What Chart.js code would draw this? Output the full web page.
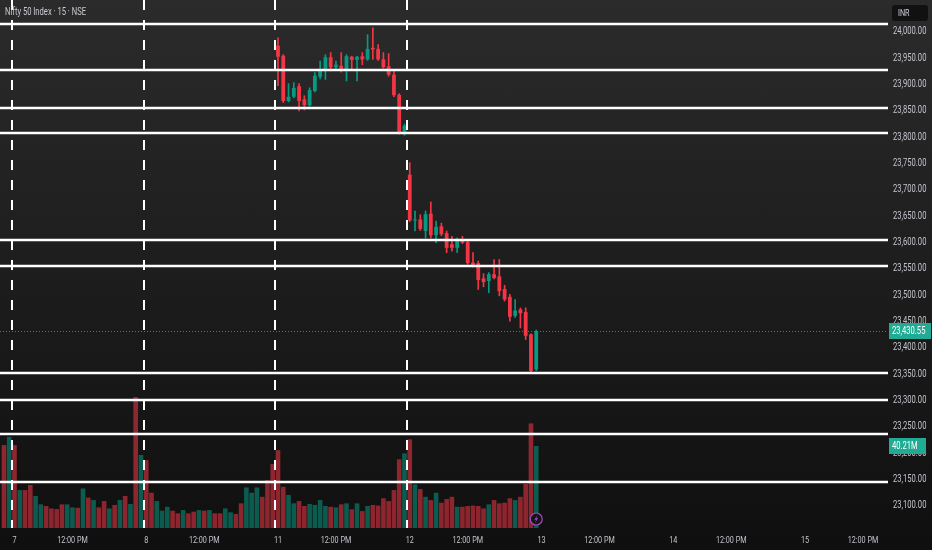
<!DOCTYPE html>
<html>
<head>
<meta charset="utf-8">
<script src="https://cdn.jsdelivr.net/npm/chart.js@4.4.1/dist/chart.umd.min.js"></script>
<style>
html,body{margin:0;padding:0}
body{width:932px;height:550px;overflow:hidden;position:relative;background:linear-gradient(#2b2b2b,#0f0f0f);font-family:Roboto,sans-serif}
#c{position:absolute;left:0;top:0}
#title{position:absolute;left:5px;top:6px;color:#c9cbd1;font-size:10px;white-space:nowrap;transform:scaleX(0.76);transform-origin:0 0}
#inr{position:absolute;left:892px;top:5px;width:36px;height:16px;border-radius:3px;background:#111;color:#d1d4dc;font-size:9px;line-height:16px;padding-left:6px;box-sizing:border-box}
#inr span{display:inline-block;transform:scaleX(0.8);transform-origin:0 0}
</style>
</head>
<body>
<canvas id="c" width="932" height="550"></canvas>
<div id="title">Nifty 50 Index · 15 · NSE</div>
<div id="inr"><span>INR</span></div>
<script>
// sessions: 25 bars of 15 min each, bar 0 = open of the 7th
const dayNames = ['7','8','11','12','13','14','15'];
const barsPerDay = 25;
const noonBar = 11;          // 12:00 PM is the 12th bar of the session
const firstVolBar = -2;      // two bars of the previous session are visible

// volume in millions, from bar -2 to bar 99
const volume = [40.7,44.7,40.7,18.6,18.6,21.1,15.7,11.6,10.8,9.6, 9.3,11.6,11.6,10.1,9.9,19.4,14.9,13.7,10.1,13.2,
  9.6,11.3,13.7,15.7,11.8,64.3,35.8,33.3,17.3,13.2, 8.5,10.4,8.5,7.2,8.8,7.2,8.0,8.8,8.5,8.8,
  7.2,7.2,9.6,7.7,6.9,12.1,19.9,17.3,19.9,15.3, 23.5,31.4,
  38.2,20.2,16.2,12.1,13.2,10.8,11.8,11.3,13.7,10.8, 10.4,10.1,11.6,12.1,9.2,12.1,8.3,10.8,11.3,11.0,
  14.6,13.2,18.6,33.7,36.6,43.5,21.4,19.1,15.3,13.7, 17.3,12.4,14.2,15.3,10.4,10.4,10.8,11.0,10.8,9.6,
  11.6,13.7,12.1,12.4,14.6,13.7,15.3,21.6,51.3,40.21];
const volUp = [0,1,0,1,0,0,1,1,0,0, 0,0,1,1,0,1,0,1,0,0, 1,0,1,0,1,0,1,0,0,1, 1,1,0,0,1,0,0,1,0,1,
  0,0,1,1,0,0,1,1,1,0, 0,0,
  0,0,1,1,0,0,1,1,1,1, 0,1,0,1,0,1,0,1,0,0, 0,0,0,0,1,0,1,0,1,0, 1,0,0,0,1,0,0,0,0,0, 1,0,0,0,0,1,0,0,0,1];

// candles visible in the price range: bars 50..99 (the 11th and 12th)
const candleStart = 50;
const open  = [23973,23954,23868,23876,23896,23871,23860,23887,23914,23928, 23951,23932,23935,23928,23952,23946,23953,23947,23969,23967,
  23947,23934,23918,23880,23805, 23728,23641,23643,23621,23654, 23613,23630,23617,23596,23589,23605,23600,23561,23560,23531,
  23526,23539,23535,23511,23496,23460,23472,23467,23425,23358];
const high  = [23988,23956,23901,23903,23901,23878,23893,23922,23944,23956, 23960,23944,23960,23956,23953,23953,23960,23994,24007,23975,
  23960,23958,23928,23882,23824, 23751,23659,23652,23659,23676, 23640,23636,23621,23611,23608,23611,23605,23580,23564,23540,
  23542,23567,23567,23518,23501,23491,23475,23475,23426,23433];
const low   = [23897,23865,23866,23874,23849,23851,23858,23885,23910,23909, 23925,23927,23923,23906,23928,23906,23937,23945,23947,23945,
  23930,23915,23876,23805,23803, 23639,23621,23622,23608,23608, 23599,23612,23580,23583,23580,23597,23558,23553,23510,23515,
  23504,23530,23498,23488,23450,23457,23437,23415,23354,23356];
const close = [23952,23868,23876,23893,23868,23860,23889,23916,23925,23951, 23932,23937,23929,23953,23946,23952,23947,23967,23966,23947,
  23932,23918,23879,23808,23821, 23641,23643,23625,23653,23613, 23629,23615,23589,23589,23605,23599,23560,23556,23528,23524,
  23539,23532,23507,23491,23458,23470,23465,23422,23355,23430.55];

const levels = [24014,23926,23855,23808,23604,23555,23351,23300,23236,23144];
const priceTicks = [23100,23150,23200,23250,23300,23350,23400,23450,23500,23550,23600,23650,23700,23750,23800,23850,23900,23950,24000];
const lastPrice = 23430.55;
const lastVolume = 40.21;

const UP = '#089981', DOWN = '#f23645';
const UP_V = 'rgba(8,153,129,0.55)', DOWN_V = 'rgba(242,54,69,0.55)';
const TXT = '#c3c5cc';
const SX = 0.76;   // squeeze text to get the narrow look of the original font
const lastBar = candleStart + close.length - 1;

// time axis ticks
const timeTicks = {};
dayNames.forEach((d,i)=>{ timeTicks[i*barsPerDay]=d; timeTicks[i*barsPerDay+noonBar]='12:00 PM'; });
const sessionStarts = dayNames.map((d,i)=>i*barsPerDay).filter(b=>b<=lastBar);

const fmt = v => v.toLocaleString('en-US',{minimumFractionDigits:2,maximumFractionDigits:2});

const bodies=[], wicks=[], candleCol=[];
close.forEach((c,i)=>{
  bodies.push({x:candleStart+i, y:[open[i],c]});
  wicks.push({x:candleStart+i, y:[low[i],high[i]]});
  candleCol.push(c>=open[i]?UP:DOWN);
});
const vols = volume.map((v,i)=>({x:firstVolBar+i, y:v}));
const volCol = volUp.map(u=>u?UP_V:DOWN_V);

function squeezed(ctx,text,x,y,align){
  ctx.save(); ctx.translate(x,y); ctx.scale(SX,1); ctx.textAlign=align; ctx.fillText(text,0,0); ctx.restore();
}

const overlay = {
  id:'overlay',
  afterDatasetsDraw(chart){
    const {ctx, chartArea:a, scales:{x,y}} = chart;
    ctx.save();
    // dotted last price line
    ctx.strokeStyle='rgba(34,171,148,0.8)'; ctx.lineWidth=1; ctx.setLineDash([1,2]);
    let py=Math.round(y.getPixelForValue(lastPrice))+0.5;
    ctx.beginPath(); ctx.moveTo(a.left,py); ctx.lineTo(a.right,py); ctx.stroke();
    // session separators
    ctx.strokeStyle='#fff'; ctx.lineWidth=2; ctx.setLineDash([10,10]);
    sessionStarts.forEach(b=>{
      const px=Math.round(x.getPixelForValue(b-0.5));
      ctx.beginPath(); ctx.moveTo(px,a.top); ctx.lineTo(px,a.bottom); ctx.stroke();
    });
    // horizontal levels
    ctx.setLineDash([]); ctx.lineWidth=2.5;
    levels.forEach(l=>{
      const ly=Math.round(y.getPixelForValue(l));
      ctx.beginPath(); ctx.moveTo(a.left,ly); ctx.lineTo(a.right,ly); ctx.stroke();
    });
    // alert icon under the last bar
    const ix=x.getPixelForValue(lastBar), iy=a.bottom-9;
    ctx.fillStyle='#151515'; ctx.strokeStyle='#a747c9'; ctx.lineWidth=1.2;
    ctx.beginPath(); ctx.arc(ix,iy,6,0,Math.PI*2); ctx.fill(); ctx.stroke();
    ctx.fillStyle='#a747c9';
    ctx.beginPath(); ctx.moveTo(ix+1.5,iy-4); ctx.lineTo(ix-2,iy+0.8); ctx.lineTo(ix,iy+0.8);
    ctx.lineTo(ix-1.5,iy+4); ctx.lineTo(ix+2,iy-0.8); ctx.lineTo(ix,iy-0.8); ctx.closePath(); ctx.fill();
    ctx.restore();
  },
  afterDraw(chart){
    const {ctx, chartArea:a, scales:{x,y,vol}} = chart;
    ctx.save();
    ctx.textBaseline='middle';
    ctx.fillStyle=TXT;
    // axis labels
    ctx.font='10px Roboto, sans-serif';
    y.ticks.forEach(t=>squeezed(ctx,fmt(t.value),a.right+5,y.getPixelForValue(t.value)+0.5,'left'));
    ctx.font='9.5px Roboto, sans-serif';
    x.ticks.forEach(t=>squeezed(ctx,timeTicks[t.value],x.getPixelForValue(t.value),a.bottom+13,'center'));
    // last value boxes
    ctx.font='10px Roboto, sans-serif';
    const box=(cy,w,text)=>{
      cy=Math.round(cy);
      ctx.fillStyle='#22ab94';
      ctx.fillRect(a.right+1,cy-8,w,16);
      ctx.fillStyle='#fff';
      squeezed(ctx,text,a.right+4,cy+0.5,'left');
    };
    box(y.getPixelForValue(lastPrice),42,fmt(lastPrice));
    box(vol.getPixelForValue(lastVolume),37,lastVolume.toFixed(2)+'M');
    ctx.restore();
  }
};

new Chart(document.getElementById('c'),{
  type:'bar',
  data:{datasets:[
    {data:bodies, yAxisID:'y', backgroundColor:candleCol, grouped:false, barPercentage:0.72, categoryPercentage:1, minBarLength:1},
    {data:wicks, yAxisID:'y', backgroundColor:candleCol, grouped:false, barThickness:1},
    {data:vols, yAxisID:'vol', backgroundColor:volCol, grouped:false, barPercentage:0.88, categoryPercentage:1}
  ]},
  options:{
    responsive:false, animation:false, events:[],
    layout:{padding:0},
    plugins:{legend:{display:false}, tooltip:{enabled:false}},
    scales:{
      x:{type:'linear', offset:false, min:-2.75, max:165.75, grid:{display:false, drawTicks:false}, border:{display:false},
        afterBuildTicks:s=>{ s.ticks=Object.keys(timeTicks).map(v=>({value:+v})); },
        afterFit:s=>{ s.height=22; s.paddingLeft=0; s.paddingRight=0; },
        ticks:{display:false}},
      y:{type:'linear', position:'right', min:23057, max:24059.8, grid:{display:false, drawTicks:false}, border:{display:false},
        afterBuildTicks:s=>{ s.ticks=priceTicks.map(v=>({value:v})); },
        afterFit:s=>{ s.width=44; s.paddingTop=0; s.paddingBottom=0; },
        ticks:{display:false}},
      vol:{type:'linear', display:false, min:0, max:259}
    }
  },
  plugins:[overlay]
});
</script>
</body>
</html>
